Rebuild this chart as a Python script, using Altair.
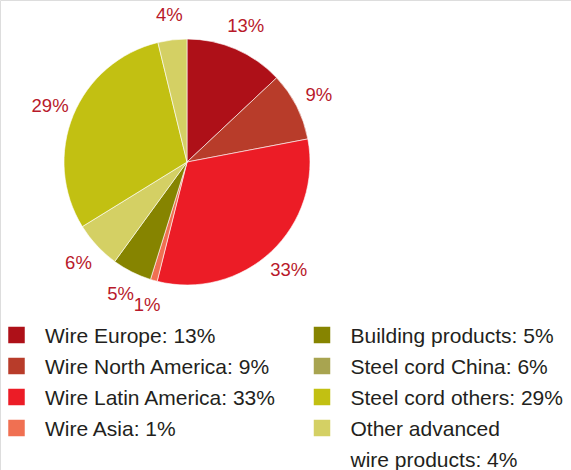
import altair as alt
import pandas as pd

# Data
categories = [
    "Wire Europe",
    "Wire North America",
    "Wire Latin America",
    "Wire Asia",
    "Building products",
    "Steel cord China",
    "Steel cord others",
    "Other advanced\nwire products",
]
# percentages as printed
label_values = [13, 9, 33, 1, 5, 6, 29, 4]
# slice sizes as drawn in the pie
slice_shares = [13.0, 9.0, 31.9, 0.9, 5.2, 6.2, 30.0, 3.8]

# Colours as drawn in the pie and as drawn in the legend
pie_colors = ["#ae1018", "#b83c2a", "#ec1c26", "#f07052",
              "#868400", "#d4d064", "#c2c012", "#d4d064"]
legend_colors = ["#ae1018", "#b83c2a", "#ec1c26", "#f07052",
                 "#868400", "#a8a450", "#c2c012", "#d4d064"]
legend_col = [0, 0, 0, 0, 1, 1, 1, 1]
legend_row = [0, 1, 2, 3, 0, 1, 2, 3]

df = pd.DataFrame({
    "category": categories,
    "share": slice_shares,
    "idx": list(range(len(categories))),
    "pct": [f"{v}%" for v in label_values],
    "legend_label": [f"{c}: {v}%" for c, v in zip(categories, label_values)],
    "legend_color": legend_colors,
    "col": legend_col,
    "row": legend_row,
})

CX, CY = 187, 162
FONT = "Liberation Sans"

base = alt.Chart(df)

pie = base.mark_arc(radius=123, stroke="#ffffff", strokeWidth=0.6).encode(
    theta=alt.Theta("share:Q", stack=True),
    order=alt.Order("idx:Q"),
    color=alt.Color("category:N",
                    scale=alt.Scale(domain=categories, range=pie_colors),
                    legend=None, sort=None),
    x=alt.value(CX),
    y=alt.value(CY),
)

labels = base.mark_text(radius=148, font=FONT, fontSize=18.5,
                        color="#b8192a", align="center",
                        baseline="middle").encode(
    theta=alt.Theta("share:Q", stack=True),
    order=alt.Order("idx:Q"),
    text="pct:N",
    x=alt.value(CX),
    y=alt.value(CY),
)

xscale = alt.Scale(domain=[0, 1], range=[16.5, 322])
yscale = alt.Scale(domain=[0, 3], range=[343, 436])

squares = base.mark_square(size=272, yOffset=-8, opacity=1).encode(
    x=alt.X("col:Q", scale=xscale, axis=None),
    y=alt.Y("row:Q", scale=yscale, axis=None),
    color=alt.Color("legend_color:N", scale=None, legend=None),
)

legend_text = base.mark_text(align="left", baseline="alphabetic", dx=28.5,
                             font=FONT, fontSize=21, lineBreak="\n",
                             lineHeight=31, color="#231f20").encode(
    x=alt.X("col:Q", scale=xscale, axis=None),
    y=alt.Y("row:Q", scale=yscale, axis=None),
    text="legend_label:N",
)

chart = alt.layer(pie, labels, squares, legend_text).resolve_scale(
    color="independent"
).properties(
    width=571, height=470, autosize=alt.AutoSizeParams(type="none"),
    padding=0,
).configure_view(stroke=None).configure(background="#ffffff")

chart.save("out.html", embed_options={"renderer": "svg", "actions": False})
